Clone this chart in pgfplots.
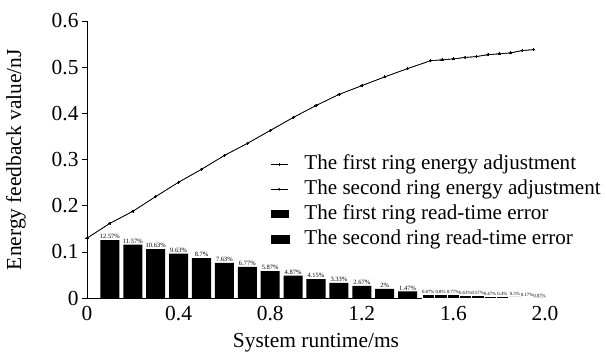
\documentclass[border=0pt]{standalone}
\usepackage{pgfplots}
\pgfplotsset{compat=1.18}
\usepackage{fontspec}
\setmainfont{Liberation Serif}
\begin{document}
\begin{tikzpicture}
\begin{axis}[
  scale only axis,
  x=229bp, y=462bp,
  xmin=0, xmax=2.0, ymin=0, ymax=0.6,
  axis lines=left,
  axis line style={-, line width=0.8bp},
  font=\fontsize{21.5}{24}\selectfont,
  /pgf/number format/assume math mode=true,
  xtick={0,0.4,0.8,1.2,1.6,2.0},
  xticklabels={0,0.4,0.8,1.2,1.6,2.0},
  ytick={0,0.1,0.2,0.3,0.4,0.5,0.6},
  yticklabels={0,0.1,0.2,0.3,0.4,0.5,0.6},
  x tick style={draw=none},
  y tick style={line width=0.6bp, black},
  tick align=outside, major tick length=5bp,
  xlabel={System runtime/ms},
  ylabel={Energy feedback value/nJ},
  xlabel style={yshift=-5bp},
  ylabel style={at={(axis description cs:-0.155,0.5)}, anchor=center},
  clip=false,
  legend cell align=left,
  legend style={at={(axis cs:0.80,0.315)}, anchor=north west, draw=none, fill=none,
    font=\fontsize{21.2}{24}\selectfont, row sep=2bp, column sep=14bp, inner sep=0pt,
    nodes={inner sep=1.5bp, text height=15bp, text depth=5bp}},
]
\addplot[black, line width=0.6bp, mark=+, mark size=1.6bp, mark options={line width=0.5bp}] coordinates {
(0,0.130) (0.1,0.162) (0.2,0.188) (0.3,0.220) (0.4,0.251) (0.5,0.279) (0.6,0.309)
(0.7,0.335) (0.8,0.363) (0.9,0.391) (1.0,0.417) (1.1,0.441) (1.2,0.460) (1.3,0.479)
(1.4,0.497) (1.5,0.514) (1.55,0.516) (1.6,0.518) (1.65,0.521) (1.7,0.523) (1.75,0.527)
(1.8,0.529) (1.85,0.531) (1.9,0.536) (1.95,0.538)};
\addlegendentry{The first ring energy adjustment}
\addplot[black, line width=0.6bp, mark=*, mark size=0.9bp] coordinates {
(0,0.130) (0.1,0.162) (0.2,0.188) (0.3,0.220) (0.4,0.251) (0.5,0.279) (0.6,0.309)
(0.7,0.335) (0.8,0.363) (0.9,0.391) (1.0,0.417) (1.1,0.441) (1.2,0.460) (1.3,0.479)
(1.4,0.497) (1.5,0.514) (1.55,0.516) (1.6,0.518) (1.65,0.521) (1.7,0.523) (1.75,0.527)
(1.8,0.529) (1.85,0.531) (1.9,0.536) (1.95,0.538)};
\addlegendentry{The second ring energy adjustment}
\addplot[ybar, bar width=0.083, bar shift=0pt, fill=black, draw=none,
  point meta=explicit symbolic,
  nodes near coords={\pgfplotspointmeta\%},
  every node near coord/.append style={font=\fontsize{6.5}{7}\selectfont, inner sep=1pt, text height=, text depth=},
  legend image code/.code={\fill[black] (0bp,-4bp) rectangle (18bp,4bp);}]
coordinates {
(0.1,0.1257) [12.57] (0.2,0.1157) [11.57] (0.3,0.1063) [10.63] (0.4,0.0963) [9.63]
(0.5,0.087) [8.7] (0.6,0.0763) [7.63] (0.7,0.0677) [6.77] (0.8,0.0587) [5.87]
(0.9,0.0487) [4.87] (1.0,0.0415) [4.15] (1.1,0.0333) [3.33] (1.2,0.0267) [2.67]
(1.3,0.02) [2] (1.4,0.0147) [1.47]};
\addlegendentry{The first ring read-time error}
\addplot[ybar, bar width=0.054, bar shift=0pt, fill=black, draw=white, line width=0.3bp,
  point meta=explicit symbolic,
  nodes near coords={\pgfplotspointmeta\%},
  every node near coord/.append style={font=\fontsize{4.8}{5}\selectfont, inner sep=0.6pt},
  forget plot]
coordinates {
(1.49,0.0087) [0.87] (1.544,0.008) [0.8] (1.598,0.0077) [0.77] (1.652,0.0063) [0.63]
(1.706,0.0057) [0.57] (1.76,0.0047) [0.47] (1.814,0.004) [0.4] (1.868,0.003) [0.3]
(1.922,0.0017) [0.17] (1.976,0.0007) [0.07]};
\addlegendimage{legend image code/.code={\fill[black] (0bp,-4bp) rectangle (18bp,4bp);}}
\addlegendentry{The second ring read-time error}
\path (rel axis cs:1,1) ++(61bp,21bp);
\path (rel axis cs:0,0) ++(-87bp,-56bp);
\end{axis}
\end{tikzpicture}
\end{document}
